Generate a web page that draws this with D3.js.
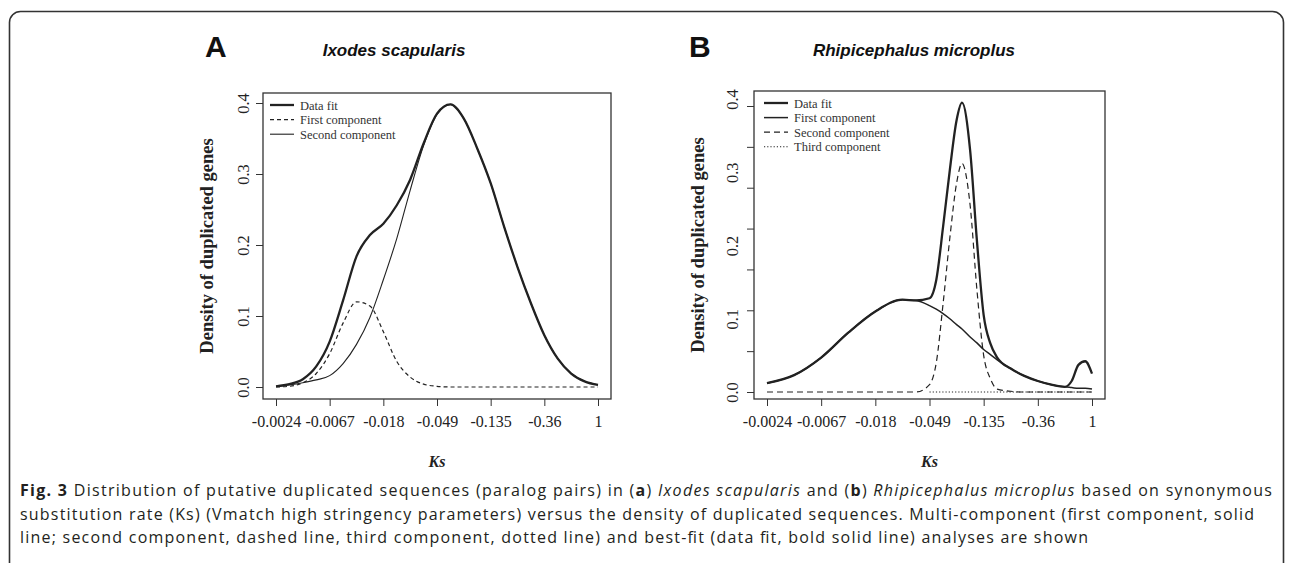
<!DOCTYPE html>
<html>
<head>
<meta charset="utf-8">
<script src="https://cdn.jsdelivr.net/npm/d3@7"></script>
<style>
  body { margin: 0; background: #fff; }
  svg { display: block; }
  .serif { font-family: 'Liberation Serif', 'Times New Roman', serif; }
</style>
</head>
<body>
<svg id="chart" width="1293" height="563"></svg>
<script>
// x is ln(Ks); the printed labels are the ones used in the figure
const ksTicks = [-6, -5, -4, -3, -2, -1, 0]
const ksTickLabels = ['-0.0024', '-0.0067', '-0.018', '-0.049', '-0.135', '-0.36', '1']
const densityLabels = [0, 0.1, 0.2, 0.3, 0.4]
const densityTicksB = [0, 0.05, 0.1, 0.15, 0.2, 0.25, 0.3, 0.35]

// Panel A - Ixodes scapularis
const ksA = [-6, -5.75, -5.5, -5.25, -5, -4.75, -4.5, -4.25, -4, -3.75, -3.5, -3.25, -3,
	-2.75, -2.5, -2.25, -2, -1.75, -1.5, -1.25, -1, -0.75, -0.5, -0.25, 0]
const dataFitA = [0.001, 0.004, 0.011, 0.029, 0.064, 0.122, 0.184, 0.214, 0.230, 0.256, 0.292, 0.343, 0.385,
	0.398, 0.378, 0.336, 0.287, 0.226, 0.169, 0.118, 0.073, 0.040, 0.019, 0.008, 0.003]
const firstA = [0.000, 0.001, 0.006, 0.019, 0.047, 0.090, 0.120, 0.114, 0.078, 0.036, 0.014, 0.004, 0.001,
	0, 0, 0, 0, 0, 0, 0, 0, 0, 0, 0, 0]
const secondA = [0.001, 0.003, 0.006, 0.010, 0.016, 0.033, 0.060, 0.098, 0.151, 0.209, 0.277, 0.340, 0.384,
	0.398, 0.378, 0.336, 0.287, 0.226, 0.169, 0.118, 0.073, 0.040, 0.019, 0.008, 0.003]

// Panel B - Rhipicephalus microplus
const ksB = [-6, -5.5, -5, -4.5, -4, -3.5, -3.25, -3, -2.875, -2.75, -2.625, -2.5, -2.4, -2.25,
	-2.125, -2, -1.875, -1.75, -1.5, -1.25, -1, -0.75, -0.5, -0.375, -0.25, -0.125, 0]
const dataFitB = [0.012, 0.023, 0.047, 0.081, 0.110, 0.126, 0.125, 0.128, 0.153, 0.225, 0.303, 0.371, 0.395, 0.330,
	0.207, 0.105, 0.066, 0.047, 0.032, 0.022, 0.015, 0.010, 0.007, 0.015, 0.037, 0.042, 0.025]
const firstB = [0.012, 0.023, 0.047, 0.081, 0.110, 0.126, 0.125, 0.118, 0.113, 0.107, 0.100, 0.092, 0.086, 0.075,
	0.067, 0.058, 0.051, 0.044, 0.032, 0.022, 0.015, 0.010, 0.007, 0.006, 0.005, 0.005, 0.004]
const secondB = [0, 0, 0, 0, 0, 0, 0, 0.010, 0.040, 0.120, 0.210, 0.285, 0.312, 0.255,
	0.140, 0.050, 0.018, 0.004, 0.001, 0, 0, 0, 0, 0, 0, 0, 0]
const thirdB = [null, null, null, null, null, null, null, 0, 0, 0, 0, 0, 0, 0,
	0, 0, 0, 0, 0, 0, 0, 0, 0, 0, 0, 0, 0]

const legendA = ['Data fit', 'First component', 'Second component']
const legendB = ['Data fit', 'First component', 'Second component', 'Third component']

const ink = '#222'
const styles = {
	fit: { width: 2.3, dash: null },
	thin: { width: 1.1, dash: null },
	solid: { width: 1.5, dash: null },
	dashA: { width: 1.2, dash: '4,3' },
	dashB: { width: 1.2, dash: '6,4' },
	dot: { width: 1.1, dash: '1.2,2' }
}

const svg = d3.select('#chart')

// rounded frame around the figure
svg.append('rect')
	.attr('x', 9.5).attr('y', 11.5)
	.attr('width', 1274).attr('height', 640)
	.attr('rx', 11)
	.style('fill', 'none').style('stroke', '#333').style('stroke-width', 1.6)

function drawPanel(p) {
	const g = svg.append('g')
	const x = d3.scaleLinear().domain([-6, 0]).range([p.x0, p.x1])
	const y = d3.scaleLinear().domain([0, 0.4]).range([p.y0, p.y4])

	// x axis
	const xAxis = g.append('g')
		.attr('class', 'serif')
		.attr('transform', `translate(0,${p.bottom})`)
		.call(d3.axisBottom(x).tickValues(ksTicks).tickFormat((d, i) => ksTickLabels[i]).tickSize(7).tickPadding(10))
	xAxis.select('.domain').remove()
	xAxis.selectAll('text').style('font-size', '16px').style('fill', ink)
	xAxis.selectAll('line').style('stroke', '#333')

	// y axis: tick marks (B keeps its own tick spacing) and rotated labels
	const tickScale = p.tickScale || y
	const yTicks = g.append('g')
		.attr('transform', `translate(${p.left},0)`)
		.call(d3.axisLeft(tickScale).tickValues(p.tickValues || densityLabels).tickFormat('').tickSize(7))
	yTicks.select('.domain').remove()
	yTicks.selectAll('line').style('stroke', '#333')

	const yLabels = g.append('g')
		.attr('class', 'serif')
		.attr('transform', `translate(${p.left},0)`)
		.call(d3.axisLeft(y).tickValues(densityLabels).tickFormat(d3.format('.1f')).tickSize(0))
	yLabels.select('.domain').remove()
	yLabels.selectAll('text')
		.attr('transform', 'rotate(-90)')
		.attr('x', 0).attr('y', -p.labelOffset).attr('dy', 0)
		.style('text-anchor', 'middle')
		.style('font-size', '16.5px').style('fill', ink)

	// curves
	p.series.forEach((s) => {
		const st = styles[s.style]
		const line = d3.line()
			.defined((d) => d != null)
			.x((d, i) => x(p.ks[i]))
			.y((d) => y(d))
			.curve(d3.curveMonotoneX)
		g.append('path')
			.datum(s.values)
			.attr('d', line)
			.style('fill', 'none')
			.style('stroke', ink)
			.style('stroke-width', st.width)
			.style('stroke-dasharray', st.dash)
			.style('stroke-linejoin', 'round')
	})

	// box
	g.append('rect')
		.attr('x', p.left).attr('y', p.top)
		.attr('width', p.right - p.left).attr('height', p.bottom - p.top)
		.style('fill', 'none').style('stroke', '#333').style('stroke-width', 1.3)

	// legend
	const lg = g.append('g').attr('class', 'serif')
	p.legend.forEach((label, i) => {
		const st = styles[p.series[i].style]
		const ly = p.legendY + i * 14.6
		lg.append('line')
			.attr('x1', p.legendX).attr('x2', p.legendX + 24)
			.attr('y1', ly).attr('y2', ly)
			.style('stroke', ink)
			.style('stroke-width', st.width)
			.style('stroke-dasharray', st.dash)
		lg.append('text')
			.attr('x', p.legendX + 30).attr('y', ly + 4.5)
			.style('font-size', '12.5px').style('fill', '#333')
			.text(label)
	})

	// panel letter and species title
	g.append('text')
		.attr('x', p.letterX).attr('y', 57)
		.style('font-family', "'Liberation Sans', Arial, sans-serif")
		.style('font-weight', 'bold').style('font-size', '30px').style('fill', '#111')
		.text(p.letter)
	g.append('text')
		.attr('x', p.titleX).attr('y', 56)
		.attr('text-anchor', 'middle')
		.style('font-family', "'Liberation Sans', Arial, sans-serif")
		.style('font-weight', 'bold').style('font-style', 'italic').style('font-size', '17px').style('fill', '#111')
		.text(p.title)

	// axis titles
	g.append('text')
		.attr('class', 'serif')
		.attr('transform', `translate(${p.left - 50},${(p.top + p.bottom) / 2}) rotate(-90)`)
		.attr('text-anchor', 'middle')
		.style('font-weight', 'bold').style('font-size', '18.5px').style('fill', ink)
		.text('Density of duplicated genes')
	g.append('text')
		.attr('class', 'serif')
		.attr('x', (p.left + p.right) / 2).attr('y', 467)
		.attr('text-anchor', 'middle')
		.style('font-weight', 'bold').style('font-style', 'italic').style('font-size', '16px').style('fill', ink)
		.text('Ks')
}

drawPanel({
	letter: 'A', letterX: 205, title: 'Ixodes scapularis', titleX: 394,
	left: 263, right: 611, top: 93, bottom: 399,
	x0: 276, x1: 598, y0: 387, y4: 103,
	labelOffset: 14,
	ks: ksA,
	series: [
		{ values: dataFitA, style: 'fit' },
		{ values: firstA, style: 'dashA' },
		{ values: secondA, style: 'thin' }
	],
	legend: legendA, legendX: 270, legendY: 105
})

drawPanel({
	letter: 'B', letterX: 689, title: 'Rhipicephalus microplus', titleX: 914,
	left: 754, right: 1105, top: 91, bottom: 399,
	x0: 767, x1: 1092, y0: 392, y4: 99,
	tickScale: d3.scaleLinear().domain([0, 0.35]).range([392, 106]),
	tickValues: densityTicksB,
	labelOffset: 16,
	ks: ksB,
	series: [
		{ values: dataFitB, style: 'fit' },
		{ values: firstB, style: 'solid' },
		{ values: secondB, style: 'dashB' },
		{ values: thirdB, style: 'dot' }
	],
	legend: legendB, legendX: 764, legendY: 103
})

// caption
const captionLines = [
	{ y: 496, len: 1252, parts: [
		['Fig. 3', 'b'], [' Distribution of putative duplicated sequences (paralog pairs) in (', ''], ['a', 'b'], [') ', ''],
		['Ixodes scapularis', 'i'], [' and (', ''], ['b', 'b'], [') ', ''], ['Rhipicephalus microplus', 'i'],
		[' based on synonymous', '']] },
	{ y: 519.5, len: 1234, parts: [
		['substitution rate (Ks) (Vmatch high stringency parameters) versus the density of duplicated sequences. Multi-component (first component, solid', '']] },
	{ y: 543, len: 1068, parts: [
		['line; second component, dashed line, third component, dotted line) and best-fit (data fit, bold solid line) analyses are shown', '']] }
]

const caption = svg.append('g')
	.style('font-family', "'Open Sans', 'Noto Sans', sans-serif")
	.style('font-size', '16px')
	.style('fill', '#231f20')

captionLines.forEach((line) => {
	const t = caption.append('text')
		.attr('x', 20).attr('y', line.y)
		.attr('textLength', line.len)
		.attr('lengthAdjust', 'spacing')
	line.parts.forEach(([txt, f]) => {
		t.append('tspan')
			.style('font-weight', f === 'b' ? 'bold' : null)
			.style('font-style', f === 'i' ? 'italic' : null)
			.text(txt)
	})
})
</script>
</body>
</html>
